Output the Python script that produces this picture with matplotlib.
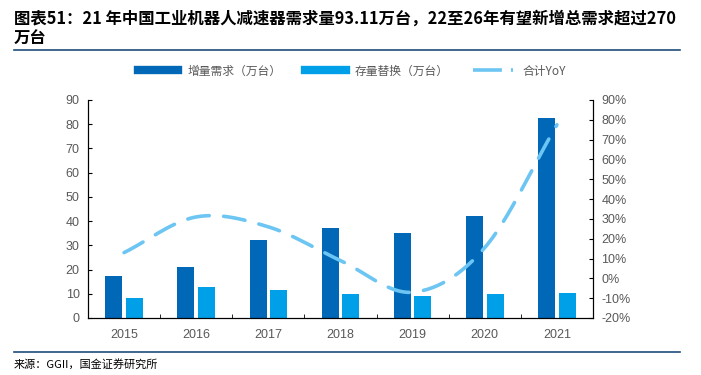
import numpy as np
import matplotlib
matplotlib.use("Agg")
import matplotlib.pyplot as plt
from matplotlib.lines import Line2D
from matplotlib.ticker import FuncFormatter

plt.rcParams['font.family'] = ['Liberation Sans', 'Noto Sans CJK SC', 'DejaVu Sans']

years = ['2015', '2016', '2017', '2018', '2019', '2020', '2021']
new_demand = [17.5, 21.2, 32.0, 37.1, 35.1, 42.0, 82.6]   # 增量需求(万台)
replace = [8.4, 13.0, 11.5, 10.0, 9.0, 10.0, 10.5]        # 存量替换(万台)
yoy = [0.13, 0.31, 0.26, 0.09, -0.07, 0.155, 0.775]      # 合计YoY

c_dark = '#0068B7'
c_light = '#00A0E9'
c_line = '#6CC5F2'
c_tick = '#595959'
cjk = ['Noto Sans CJK SC', 'DejaVu Sans']


def smooth(xs, ys, n=30):
    # catmull-rom 平滑, 类似 excel 的平滑线
    xs = np.asarray(xs, float); ys = np.asarray(ys, float)
    px = np.concatenate([[2*xs[0]-xs[1]], xs, [2*xs[-1]-xs[-2]]])
    py = np.concatenate([[2*ys[0]-ys[1]], ys, [2*ys[-1]-ys[-2]]])
    ox, oy = [], []
    for i in range(1, len(px)-2):
        t = np.linspace(0, 1, n)
        for p, o in ((px, ox), (py, oy)):
            p0, p1, p2, p3 = p[i-1], p[i], p[i+1], p[i+2]
            v = 0.5*((2*p1) + (-p0+p2)*t + (2*p0-5*p1+4*p2-p3)*t**2 + (-p0+3*p1-3*p2+p3)*t**3)
            o.extend(v)
    return np.array(ox), np.array(oy)


fig = plt.figure(figsize=(7.01, 3.75), dpi=100)
ax = fig.add_axes([88/701, 1-318/375, (593-88)/701, 218/375])
x = np.arange(len(years))
w = 0.235
ax.bar(x - 0.143, new_demand, w, color=c_dark, zorder=2)
ax.bar(x + 0.143, replace, w, color=c_light, zorder=2)
ax.set_xlim(-0.5, len(years) - 0.5)
ax.set_ylim(0, 90)
ax.set_yticks(range(0, 91, 10))
ax.set_xticks(x)
ax.set_xticklabels(years)
ax.set_xticks(np.arange(-0.5, len(years), 1), minor=True)
ax.tick_params(axis='x', which='major', length=0, pad=8, labelsize=9, labelcolor=c_tick)
ax.tick_params(axis='x', which='minor', length=3, direction='in')
ax.tick_params(axis='y', length=3, direction='in', labelsize=9, labelcolor=c_tick, pad=6)
ax.spines['top'].set_visible(False)

ax2 = ax.twinx()
sx, sy = smooth(x, yoy)
ax2.plot(sx, sy, color=c_line, lw=2.6, dashes=(6, 4), dash_capstyle='round', zorder=3)
ax2.set_ylim(-0.2, 0.9)
ax2.set_yticks(np.arange(-0.2, 0.91, 0.1))
ax2.yaxis.set_major_formatter(FuncFormatter(lambda v, p: '%d%%' % round(v*100)))
ax2.tick_params(axis='y', length=3, direction='in', labelsize=9, labelcolor=c_tick, pad=6)
ax2.spines['top'].set_visible(False)

handles = [Line2D([], [], color=c_dark, lw=6),
           Line2D([], [], color=c_light, lw=6),
           Line2D([], [], color=c_line, lw=2.6, dashes=(8, 2.5))]
leg = fig.legend(handles, ['增量需求（万台）', '存量替换（万台）', '合计YoY'], loc='center',
                 bbox_to_anchor=(352/701, 1-71/375), ncol=3, frameon=False,
                 prop={'family': cjk, 'size': 8.5},
                 handlelength=3.4, handletextpad=0.8, columnspacing=2.0, labelcolor=c_tick)

fig.text(14/701, 1-19/375, '图表51：21 年中国工业机器人减速器需求量93.11万台，22至26年有望新增总需求超过270',
         fontsize=11.8, fontweight='bold', family=cjk, ha='left', va='center')
fig.text(14/701, 1-39/375, '万台', fontsize=11.8, fontweight='bold', family=cjk, ha='left', va='center')
fig.add_artist(Line2D([14/701, 680/701], [1-50/375, 1-50/375], color='#1F4E79', lw=1.2))
fig.add_artist(Line2D([14/701, 680/701], [1-352/375, 1-352/375], color='#1F4E79', lw=1.2))
fig.text(14/701, 1-364/375, '来源：GGII，国金证券研究所', fontsize=8, family=cjk, ha='left', va='center')

fig.savefig('out.png', dpi=100)
